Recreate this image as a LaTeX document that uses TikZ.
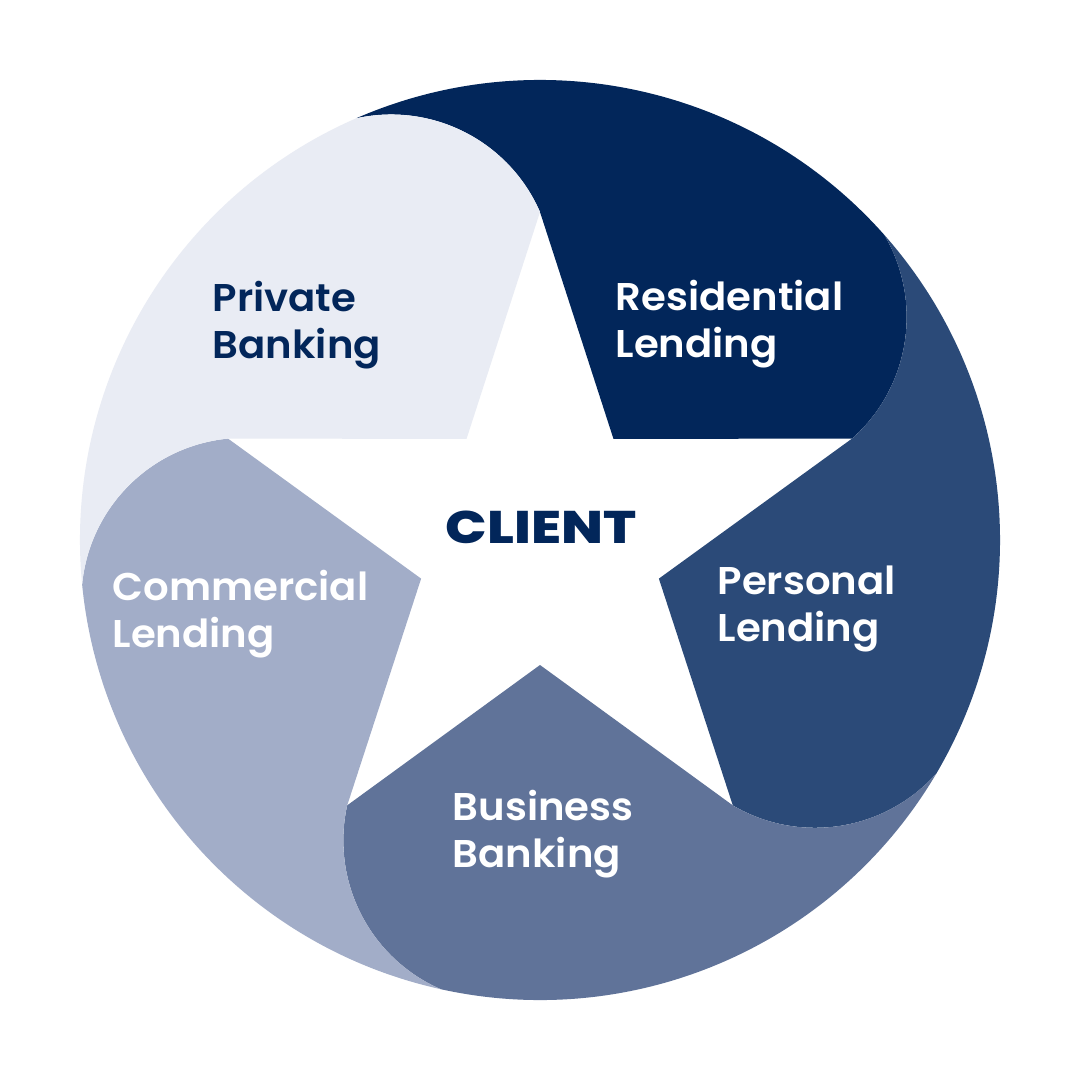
\documentclass[tikz,border=0pt]{standalone}
\usepackage{fontspec}
\setmainfont{Poppins}[UprightFont=* SemiBold,BoldFont=* ExtraBold,FakeStretch=1.04]
\newfontfamily\clientfont{Poppins ExtraBold}[FakeStretch=1.2]
\definecolor{resid}{HTML}{02265A}
\definecolor{perso}{HTML}{2B4A78}
\definecolor{busin}{HTML}{607399}
\definecolor{comme}{HTML}{A2ADC8}
\definecolor{priva}{HTML}{E9ECF4}
\tikzset{seglabel/.style={anchor=north west,align=left,inner sep=0pt,font=\fontsize{11}{13.5}\selectfont}}

\begin{document}
\begin{tikzpicture}

\pgfmathsetmacro{\rc}{4.6}
\pgfmathsetmacro{\rout}{3.28}
\pgfmathsetmacro{\rin}{1.25}
\pgfmathsetmacro{\rs}{1.6238}
\coordinate (O) at (0,0);

\fill[white] (-5.4,-5.4) rectangle (5.4,5.4);
\useasboundingbox (-5.4,-5.4) rectangle (5.4,5.4);

\foreach \k/\col in {0/resid,1/perso,2/busin,3/comme,4/priva}{
\begin{scope}[rotate=-72*\k]
\fill[\col] (90:\rout) -- (54:\rin) -- (18:\rout) arc[start angle=-48.45,end angle=30.44,radius=\rs] arc[start angle=41.55,end angle=113.55,radius=\rc] arc[start angle=102.44,end angle=23.55,radius=\rs] -- cycle;
\end{scope}
}

\node[seglabel,text=resid] (private) at (-3.28,2.60) {Private\\Banking};
\node[seglabel,text=white] (residential) at (0.75,2.61) {Residential\\Lending};
\node[seglabel,text=white] (personal) at (1.77,-0.25) {Personal\\Lending};
\node[seglabel,text=white] (business) at (-0.88,-2.49) {Business\\Banking};
\node[seglabel,text=white] (commercial) at (-4.28,-0.29) {Commercial\\Lending};
\node[inner sep=0pt,text=resid,font=\fontsize{13}{13}\clientfont] (client) at (0.01,0.125) {CLIENT};

\end{tikzpicture}
\end{document}
